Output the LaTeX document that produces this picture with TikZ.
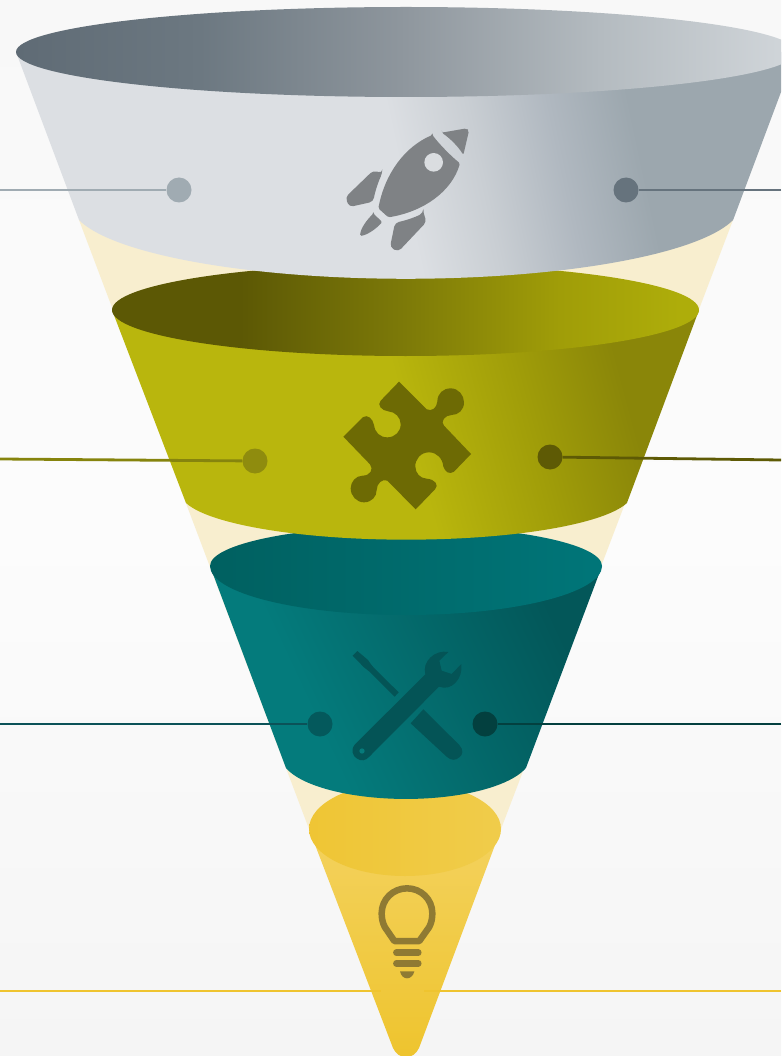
\documentclass[tikz,border=0pt]{standalone}
\definecolor{topa}{HTML}{5F6B75}\definecolor{topb}{HTML}{6C7881}\definecolor{topc}{HTML}{8E969D}\definecolor{topd}{HTML}{B4BBC0}\definecolor{tope}{HTML}{D0D5D9}
\definecolor{bodya}{HTML}{DCDFE3}\definecolor{bodyb}{HTML}{C9CED3}\definecolor{bodyc}{HTML}{B0B8C0}\definecolor{bodyd}{HTML}{9CA7AE}
\definecolor{olta}{HTML}{5C5805}\definecolor{oltb}{HTML}{7C7908}\definecolor{oltc}{HTML}{A09D08}\definecolor{oltd}{HTML}{AEAD0A}
\definecolor{olba}{HTML}{B9B60D}\definecolor{olbb}{HTML}{A09D09}\definecolor{olbc}{HTML}{8A8609}
\definecolor{teta}{HTML}{006060}\definecolor{tetb}{HTML}{007578}
\definecolor{teba}{HTML}{047B7C}\definecolor{tebb}{HTML}{035759}
\definecolor{yeta}{HTML}{EFC534}\definecolor{yetb}{HTML}{F0CC4A}
\definecolor{yeba}{HTML}{F4D25E}\definecolor{yebb}{HTML}{EEC42E}
\definecolor{cream}{HTML}{F8EECF}
\definecolor{bgtop}{HTML}{F8F8F8}\definecolor{bgmid}{HTML}{FCFCFC}\definecolor{bgbot}{HTML}{F5F5F5}
\definecolor{rocket}{HTML}{7F8285}\definecolor{rocketw}{HTML}{DADDE0}
\definecolor{puzzle}{HTML}{6D6A04}\definecolor{tools}{HTML}{045456}\definecolor{toolh}{HTML}{067A7A}\definecolor{bulb}{HTML}{8F7A33}
\definecolor{lna}{HTML}{A0ABB2}\definecolor{lnb}{HTML}{66737D}
\definecolor{lnc}{HTML}{86840D}\definecolor{dotc}{HTML}{8F8C0E}\definecolor{lnd}{HTML}{5E5A05}
\definecolor{lne}{HTML}{0B5258}\definecolor{dote}{HTML}{04595C}\definecolor{lnf}{HTML}{03403F}
\definecolor{lng}{HTML}{EFC42F}
% Horizontal page gradients: bp = 25 + x/16
\pgfdeclarehorizontalshading{gtopone}{100bp}{color(0bp)=(topa);color(26bp)=(topa);color(37.5bp)=(topb);color(50bp)=(topc);color(62.5bp)=(topd);color(74bp)=(tope);color(100bp)=(tope)}
\pgfdeclarehorizontalshading{golt}{100bp}{color(0bp)=(olta);color(40bp)=(olta);color(50bp)=(oltb);color(60bp)=(oltc);color(67.5bp)=(oltd);color(100bp)=(oltd)}
\pgfdeclarehorizontalshading{gtet}{100bp}{color(0bp)=(teta);color(38bp)=(teta);color(62bp)=(tetb);color(100bp)=(tetb)}
\pgfdeclarehorizontalshading{gyet}{100bp}{color(0bp)=(yeta);color(44bp)=(yeta);color(56bp)=(yetb);color(100bp)=(yetb)}
% Rotated gradients on a 1000 square: bp = 50 + d/20
\pgfdeclarehorizontalshading{gbodyone}{100bp}{color(0bp)=(bodya);color(50bp)=(bodya);color(54bp)=(bodyb);color(58bp)=(bodyc);color(62bp)=(bodyd);color(100bp)=(bodyd)}
\pgfdeclarehorizontalshading{gbolive}{100bp}{color(0bp)=(olba);color(50bp)=(olba);color(56bp)=(olbb);color(61bp)=(olbc);color(100bp)=(olbc)}
\pgfdeclarehorizontalshading{gbteal}{100bp}{color(0bp)=(teba);color(45bp)=(teba);color(58bp)=(tebb);color(100bp)=(tebb)}
\tikzset{
  dotn/.style={circle,inner sep=0pt,minimum size=25pt,draw=none},
  conn/.style={line width=2.8pt},
  pagerect/.style={shading=#1,shading angle=0},
}
\begin{document}
\begin{tikzpicture}[x=1pt,y=1pt,yscale=-1]
\useasboundingbox (0,0) rectangle (781,1056);
\clip (0,0) rectangle (781,1056);
% background
\shade[top color=bgtop,bottom color=bgbot,middle color=bgmid] (0,0) rectangle (781,1056);
% pale cone behind the tiers
\fill[cream] (79,220) -- (733,220) -- (501,829) -- (309,829) -- cycle;
% ---------- tier 4
\begin{scope}
\clip (309,829) -- (393,1048) .. controls (396,1054) and (400,1057) .. (406,1057) .. controls (412,1057) and (416,1054) .. (419,1048) -- (501,829) -- cycle;
\shade[top color=yeba,bottom color=yebb] (290,829) rectangle (520,1057);
\end{scope}
\begin{scope}
\clip (405,829) ellipse (96pt and 47pt);
\shade[pagerect=gyet] (0,700) rectangle (800,950);
\end{scope}
\coordinate (yl) at (0,991);
\coordinate (yla) at (381,991);
\coordinate (yr) at (781,991);
\coordinate (yra) at (424,991);
\draw[conn,lng] (yl) -- (yla);
\draw[conn,lng] (yr) -- (yra);
% bulb icon
\begin{scope}[shift={(360,870)},scale=0.33333]
\draw[bulb,line width=6.5pt,line join=round] (103,213) -- (75,172) .. controls (68,160) and (65,145) .. (65,130) .. controls (65,88) and (99,55) .. (141,55) .. controls (183,55) and (217,88) .. (217,130) .. controls (217,145) and (214,160) .. (207,172) -- (178,213) -- cycle;
\draw[bulb,line width=6.5pt,line cap=round] (109,248) -- (175,248);
\draw[bulb,line width=6.5pt,line cap=round] (109,280) -- (175,280);
\fill[bulb] (120,304) -- (163,304) .. controls (160,318) and (150,325) .. (141,325) .. controls (132,325) and (123,318) .. (120,304) -- cycle;
\end{scope}
% ---------- tier 3
\begin{scope}
\clip (210,566) -- (286,768) arc (163.7:16.3:125pt and 43pt) -- (602,566) -- cycle;
\shade[shading=gbteal,shading angle=25] (-94,180) rectangle (906,1180);
\end{scope}
\begin{scope}
\clip (210,566) arc (180:360:196pt and 40pt) arc (0:180:196pt and 49pt) -- cycle;
\shade[pagerect=gtet] (0,400) rectangle (800,700);
\end{scope}
% tools icon
\begin{scope}[shift={(340,640)},scale=0.33333]
\fill[tools] (38,47) -- (52,33) -- (84,60) .. controls (90,68) and (94,76) .. (102,84) -- (176,157) -- (164,170) -- (90,96) .. controls (84,90) and (78,88) .. (72,82) -- cycle;
\fill[tools] (250,208) -- (358,315) .. controls (372,330) and (368,345) .. (358,352) .. controls (348,362) and (332,362) .. (320,350) -- (212,250) -- cycle;
\fill[tools] (325,36) .. controls (285,28) and (245,65) .. (256,103) -- (45,313) .. controls (30,330) and (40,350) .. (50,355) .. controls (62,365) and (78,362) .. (88,350) -- (297,140) .. controls (335,155) and (370,115) .. (364,72) -- (335,102) -- (305,92) -- (298,62) -- cycle;
\fill[toolh] (66,333) circle (8pt);
\end{scope}
% ---------- tier 2
\begin{scope}
\clip (112,310) -- (186,503) arc (167.3:12.7:226pt and 47pt) -- (699,310) -- cycle;
\shade[shading=gbolive,shading angle=15] (-94,-80) rectangle (906,920);
\end{scope}
\begin{scope}
\clip (405.5,310) ellipse (293.5pt and 46pt);
\shade[pagerect=golt] (0,200) rectangle (800,450);
\end{scope}
% puzzle icon
\begin{scope}[shift={(330,370)},scale=0.33333]
\fill[puzzle] (207,35) -- (290,118) .. controls (305,125) and (320,115) .. (322,95) .. controls (322,70) and (340,55) .. (362,55) .. controls (385,55) and (402,75) .. (402,97) .. controls (402,120) and (385,135) .. (365,135) .. controls (345,135) and (330,155) .. (342,167) -- (423,252) -- (372,305) .. controls (358,315) and (345,305) .. (340,290) .. controls (338,265) and (320,247) .. (297,247) .. controls (272,247) and (255,268) .. (256,290) .. controls (257,310) and (270,325) .. (290,326) .. controls (315,328) and (328,345) .. (315,358) -- (257,418) -- (172,332) .. controls (158,325) and (140,340) .. (140,360) .. controls (140,380) and (125,397) .. (102,397) .. controls (80,397) and (62,378) .. (62,355) .. controls (62,335) and (78,317) .. (98,317) .. controls (120,317) and (132,298) .. (120,283) -- (40,200) -- (98,142) .. controls (112,132) and (128,145) .. (132,165) .. controls (135,188) and (150,202) .. (172,202) .. controls (195,202) and (212,185) .. (212,163) .. controls (212,142) and (195,125) .. (175,124) .. controls (155,122) and (140,105) .. (152,92) -- cycle;
\end{scope}
% ---------- tier 1
\begin{scope}
\clip (16,52) -- (79,220) arc (167.5:12.5:335pt and 75pt) -- (796,52) -- cycle;
\shade[shading=gbodyone,shading angle=12] (-94,-300) rectangle (906,700);
\end{scope}
\begin{scope}
\clip (406,52) ellipse (390pt and 45pt);
\shade[pagerect=gtopone] (0,0) rectangle (800,110);
\end{scope}
% rocket icon
\begin{scope}[shift={(320,110)},scale=0.33333]
\fill[rocket,rounded corners=1.5pt] (337,75) .. controls (255,110) and (195,190) .. (175,295) -- (205,322) .. controls (310,305) and (395,245) .. (420,160) .. controls (395,140) and (360,105) .. (337,75) -- cycle;
\fill[rocket,rounded corners=2pt] (365,68) -- (440,55) -- (447,62) -- (430,135) .. controls (415,110) and (390,85) .. (365,68) -- cycle;
\fill[rocketw] (341,157) circle (28pt);
\fill[rocket,rounded corners=4pt] (187,190) -- (160,181) -- (76,262) -- (88,291) -- (160,275) .. controls (165,245) and (175,215) .. (187,190) -- cycle;
\fill[rocket,rounded corners=4pt] (310,309) -- (320,335) -- (235,425) -- (210,412) -- (225,338) .. controls (255,332) and (285,322) .. (310,309) -- cycle;
\fill[rocket,rounded corners=1.5pt] (160,311) -- (187,336) .. controls (165,360) and (140,375) .. (120,378) .. controls (122,355) and (140,330) .. (160,311) -- cycle;
\end{scope}
% ---------- call-out dots and connectors
\node[dotn,fill=lna] (d1) at (179,190) {};
\node[dotn,fill=lnb] (d2) at (626,190) {};
\node[dotn,fill=dotc] (d3) at (255,461) {};
\node[dotn,fill=lnd] (d4) at (550,457) {};
\node[dotn,fill=dote] (d5) at (320,724) {};
\node[dotn,fill=lnf] (d6) at (485,724) {};
\coordinate (e1) at (0,190);
\coordinate (e2) at (781,190);
\coordinate (e3) at (0,459);
\coordinate (e4) at (781,460);
\coordinate (e5) at (0,724);
\coordinate (e6) at (781,724);
\draw[conn,lna] (e1) -- (d1);
\draw[conn,lnb] (e2) -- (d2);
\draw[conn,lnc] (e3) -- (d3);
\draw[conn,lnd] (e4) -- (d4);
\draw[conn,lne] (e5) -- (d5);
\draw[conn,lnf] (e6) -- (d6);
\end{tikzpicture}
\end{document}
